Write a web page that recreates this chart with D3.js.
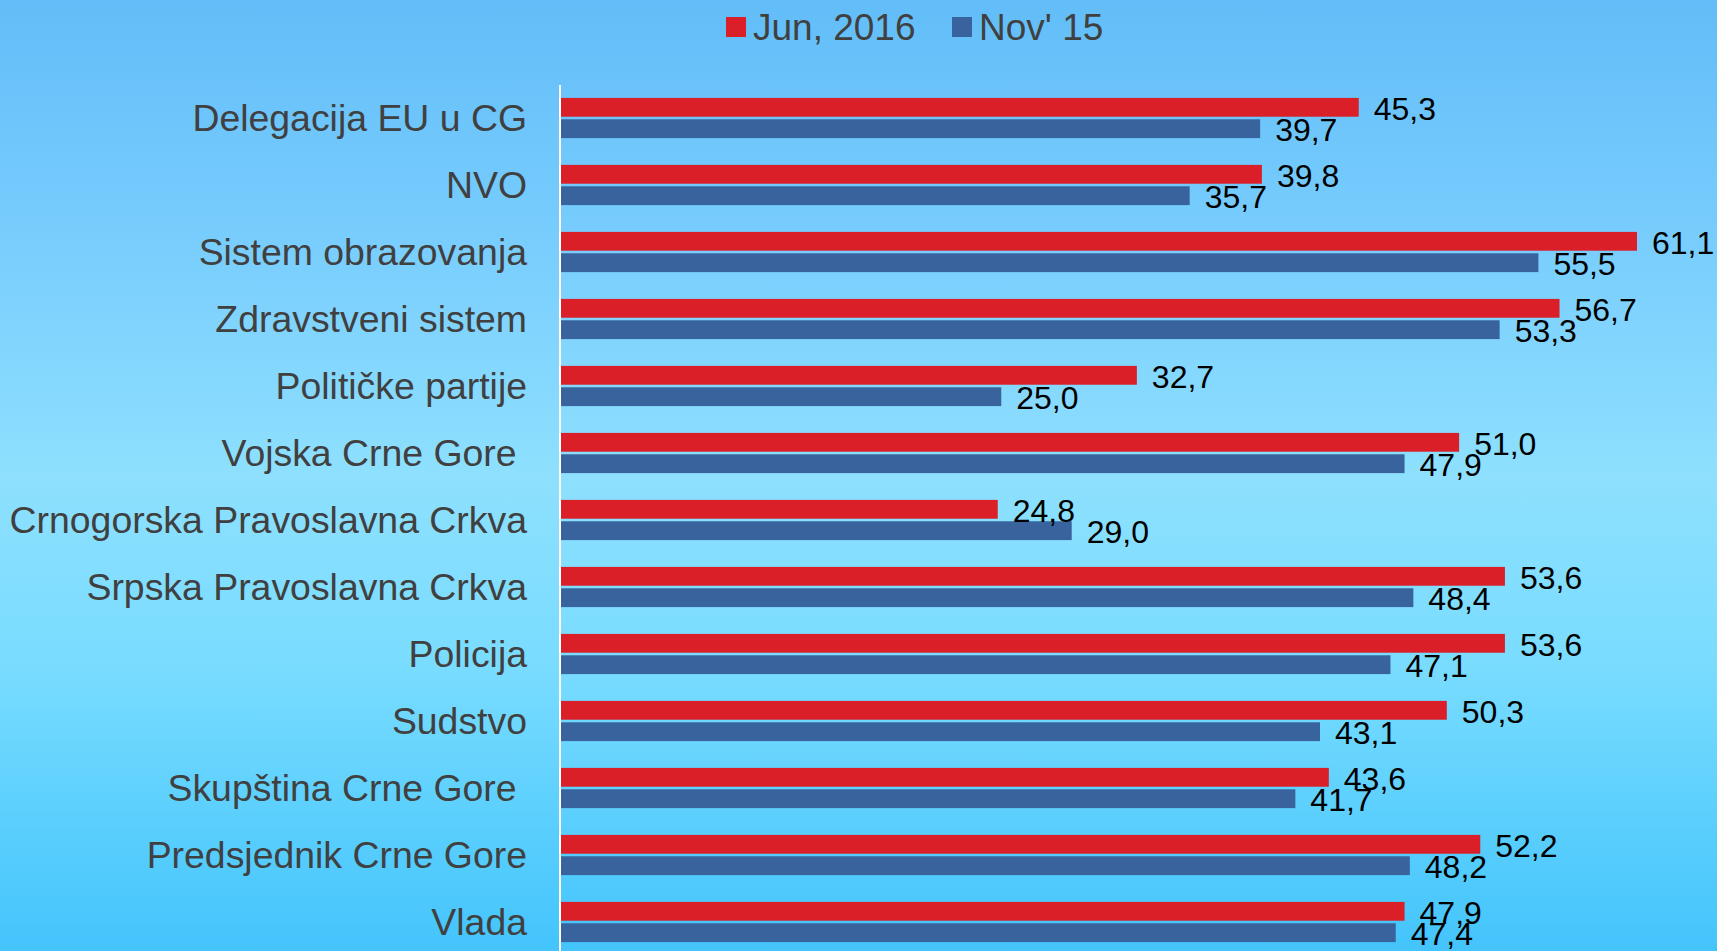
<!DOCTYPE html>
<html><head><meta charset="utf-8">
<script src="https://cdn.jsdelivr.net/npm/d3@7"></script>
<style>html,body{margin:0;padding:0;overflow:hidden;} text{font-family:"Liberation Sans",Arial,sans-serif;}</style>
</head><body>
<svg id="c" width="1717" height="951"></svg>
<script>
const categories = ["Delegacija EU u CG","NVO","Sistem obrazovanja","Zdravstveni sistem","Političke partije","Vojska Crne Gore ","Crnogorska Pravoslavna Crkva","Srpska Pravoslavna Crkva","Policija","Sudstvo","Skupština Crne Gore ","Predsjednik Crne Gore","Vlada"];
const seriesNames = ["Jun, 2016","Nov' 15"];
const jun2016 = [45.3,39.8,61.1,56.7,32.7,51.0,24.8,53.6,53.6,50.3,43.6,52.2,47.9];
const nov15 = [39.7,35.7,55.5,53.3,25.0,47.9,29.0,48.4,47.1,43.1,41.7,48.2,47.4];
const colors = ["#da1f28","#38639d"];

const svg = d3.select("#c");
const defs = svg.append("defs");
const g = defs.append("linearGradient").attr("id","bg").attr("x1",0).attr("y1",0).attr("x2",0).attr("y2",1);
[[0,"#62bdf8"],[0.25,"#78cdfd"],[0.5,"#8ee0fe"],[0.7,"#79dcff"],[0.85,"#5dd0fd"],[1,"#44c4fc"]].forEach(s=>g.append("stop").attr("offset",s[0]).attr("stop-color",s[1]));
svg.append("rect").attr("width",1717).attr("height",951).attr("fill","url(#bg)");

const x = d3.scaleLinear().domain([0,61.1]).range([561,1637]);
const y0 = d3.scaleBand().domain(categories).range([84.5,955.5]).paddingInner(0.4).paddingOuter(0.2);
const y1 = d3.scaleBand().domain(seriesNames).range([0,y0.bandwidth()]).paddingInner(0.12);
const series = [jun2016, nov15];
const fmt = v => d3.format(".1f")(v).replace(".",",");

// axis line
svg.append("line").attr("x1",560).attr("x2",560).attr("y1",85).attr("y2",951).attr("stroke","#ffffff").attr("stroke-width",2);

series.forEach((vals,si)=>{
  const grp = svg.append("g");
  grp.selectAll("rect").data(vals).join("rect")
    .attr("x",x(0)).attr("y",(d,i)=>y0(categories[i])+y1(seriesNames[si]))
    .attr("width",d=>x(d)-x(0)).attr("height",y1.bandwidth())
    .attr("fill",colors[si]);
});
series.forEach((vals,si)=>{
  svg.append("g").selectAll("text").data(vals).join("text")
    .attr("x",d=>x(d)+15).attr("y",(d,i)=>y0(categories[i])+y1(seriesNames[si])+y1.bandwidth()/2+1)
    .attr("dy","0.35em").attr("font-size",32).attr("fill","#000").text(d=>fmt(d));
});

// category labels
svg.append("g").selectAll("text").data(categories).join("text")
  .attr("x",527).attr("y",d=>y0(d)+y0.bandwidth()/2).attr("dy","0.35em")
  .attr("text-anchor","end").attr("font-size",37.4).attr("fill","#404040")
  .style("white-space","pre").text(d=>d);

// legend
const legX = [726, 952];
seriesNames.forEach((n,i)=>{
  svg.append("rect").attr("x",legX[i]).attr("y",17).attr("width",20).attr("height",20).attr("fill",colors[i]);
  svg.append("text").attr("x",legX[i]+27).attr("y",40).attr("font-size",37).attr("fill","#404040").text(n);
});
</script>
</body></html>
